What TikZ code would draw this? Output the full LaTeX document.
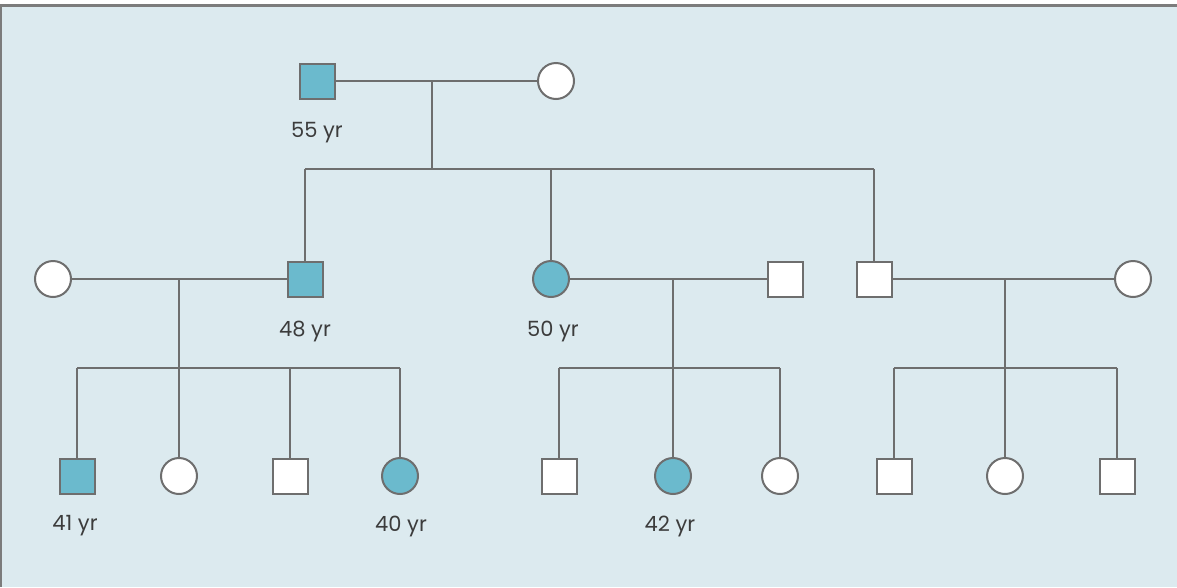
\documentclass[tikz,border=0pt]{standalone}
\usepackage{fontspec}
\setmainfont{Poppins}
\definecolor{bgblue}{HTML}{DCEAEF}
\definecolor{affected}{HTML}{6BBACD}
\definecolor{linegray}{HTML}{6E6E6E}
\definecolor{edgegray}{HTML}{7C7C7C}
\definecolor{labelgray}{HTML}{3C3C3C}
\tikzset{
  person/.style={draw=linegray, line width=2pt, fill=white, inner sep=0pt},
  male/.style={person, rectangle, minimum size=35pt},
  female/.style={person, circle, minimum size=36pt},
  aff/.style={fill=affected},
  link/.style={draw=linegray, line width=1.5pt},
  age/.style={text=labelgray, font=\fontsize{21}{24}\selectfont, inner sep=0pt}
}
\begin{document}
\begin{tikzpicture}[x=1pt,y=-1pt]
\useasboundingbox (0,0) rectangle (1177,587);
% panel
\fill[white] (0,0) rectangle (1177,587);
\fill[bgblue] (1,5) rectangle (1177,587);
\draw[edgegray, line width=2.2pt] (0,5.5) -- (1177,5.5);
\draw[edgegray, line width=2.2pt] (1,5) -- (1,587);

% generation I
\node[male, aff] (g1m) at (317,81) {};
\node[female] (g1f) at (556,81) {};
\coordinate (m1) at (432,81);
\coordinate (s1) at (432,169);
\node[age] at (317,133) {55 yr};

% generation II
\node[female] (a1) at (53,279) {};
\node[male, aff] (a2) at (305,279) {};
\node[female, aff] (b1) at (551,279) {};
\node[male] (b2) at (785,279) {};
\node[male] (c1) at (874,279) {};
\node[female] (c2) at (1133,279) {};
\node[age] at (305,331) {48 yr};
\node[age] at (553,331) {50 yr};

% generation III
\node[male, aff] (a3) at (77,476) {};
\node[female] (a4) at (179,476) {};
\node[male] (a5) at (290,476) {};
\node[female, aff] (a6) at (400,476) {};
\node[male] (b3) at (559,476) {};
\node[female, aff] (b4) at (673,476) {};
\node[female] (b5) at (780,476) {};
\node[male] (c3) at (894,476) {};
\node[female] (c4) at (1005,476) {};
\node[male] (c5) at (1117,476) {};
\node[age] at (75,526) {41 yr};
\node[age] at (401,526) {40 yr};
\node[age] at (670,526) {42 yr};

% helper points on marriage and sibship lines
\coordinate (ma) at (179,279);
\coordinate (mb) at (673,279);
\coordinate (mc) at (1005,279);
\coordinate (sa) at (179,368);
\coordinate (sb) at (673,368);
\coordinate (sc) at (1005,368);

% marriages and descent
\path[link] (g1m) -- (g1f);
\path[link] (m1) -- (s1);
\path[link] (s1 -| a2) -- (s1 -| c1);
\path[link] (s1 -| a2) -- (a2);
\path[link] (s1 -| b1) -- (b1);
\path[link] (s1 -| c1) -- (c1);

\path[link] (a1) -- (a2);
\path[link] (ma) -- (sa);
\path[link] (sa -| a3) -- (sa -| a6);
\foreach \k in {a3,a4,a5,a6} \path[link] (sa -| \k) -- (\k);

\path[link] (b1) -- (b2);
\path[link] (mb) -- (sb);
\path[link] (sb -| b3) -- (sb -| b5);
\foreach \k in {b3,b4,b5} \path[link] (sb -| \k) -- (\k);

\path[link] (c1) -- (c2);
\path[link] (mc) -- (sc);
\path[link] (sc -| c3) -- (sc -| c5);
\foreach \k in {c3,c4,c5} \path[link] (sc -| \k) -- (\k);
\end{tikzpicture}
\end{document}
